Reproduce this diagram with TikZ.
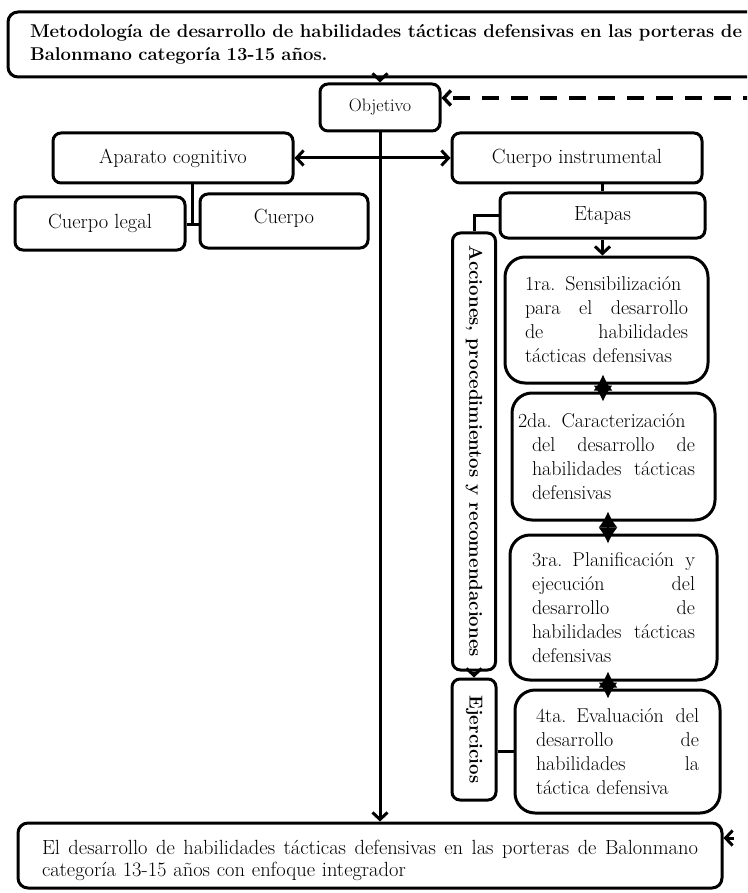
\documentclass[tikz,border=0pt]{standalone}
\usepackage{fontspec}
\usetikzlibrary{arrows.meta}
\newcommand{\jl}[2]{\leavevmode\hbox to #1{\spaceskip=0.3em plus 1fil\relax #2}}
\begin{document}
\begin{tikzpicture}[x=1pt,y=-1pt,
  box/.style={draw, line width=3pt, rounded corners=8pt, inner sep=0pt, align=center, font=\fontsize{20.5}{23}\selectfont},
  stage/.style={box, rounded corners=20pt, text width=163pt, align=left, font=\fontsize{20}{24}\selectfont},
  vbox/.style={box, rotate=-90, font=\bfseries\fontsize{18.7}{20}\selectfont},
  conn/.style={line width=3pt},
  arr/.style={line width=3pt, -{Straight Barb[length=7pt,width=15pt]}},
  arrs/.style={line width=3pt, {Straight Barb[length=7pt,width=15pt]}-{Straight Barb[length=7pt,width=15pt]}},
  dbl/.style={line width=2pt, {Latex[length=16pt,width=19pt]}-{Latex[length=16pt,width=19pt]}, shorten <=-10pt, shorten >=-10pt},
  dsh/.style={line width=3.4pt, dash pattern=on 17pt off 12pt, -{Straight Barb[length=7pt,width=15pt]}}
]
\useasboundingbox (0,0) rectangle (747,893);
\clip (0,0) rectangle (747,893);
\fill[white] (0,0) rectangle (747,893);

% top title
\node[box, rounded corners=10pt, minimum width=756pt, minimum height=65pt, text width=712pt, align=left,
  font=\bfseries\fontsize{18.5}{23}\selectfont] (top) at (386,44.5)
  {\jl{712pt}{Metodología de desarrollo de habilidades tácticas defensivas en las porteras de}\\Balonmano categoría 13-15 años.};

\node[box, minimum width=120pt, minimum height=47pt, font=\fontsize{18}{20}\selectfont] (obj) at (380,107.5) {Objetivo};

\node[box, minimum width=240pt, minimum height=50pt] (apa) at (173,158) {Aparato cognitivo};
\node[box, minimum width=250pt, minimum height=50pt] (ci) at (577,158) {Cuerpo instrumental};
\node[box, minimum width=170pt, minimum height=53pt] (leg) at (100,223.5) {Cuerpo legal};
\node[box, minimum width=168pt, minimum height=54pt] (cu) at (284,221) {Cuerpo\rule[-9pt]{0pt}{9pt}};
\node[box, minimum width=205pt, minimum height=45pt] (et) at (602.5,215.5) {Etapas};

\node[vbox, minimum width=437pt, minimum height=43pt] (acc) at (474,451.5) {Acciones, procedimientos y recomendaciones};
\node[vbox, minimum width=121pt, minimum height=44pt] (ej) at (474,739.5) {Ejercicios};

\node[stage, minimum width=203pt, minimum height=126pt] (s1) at (606.5,320)
  {\jl{163pt}{1ra. Sensibilización}\\\jl{163pt}{para el desarrollo}\\\jl{163pt}{de habilidades}\\tácticas defensivas};
\node[stage, minimum width=203pt, minimum height=127pt] (s2) at (613.5,456.5)
  {\hspace*{-14pt}\jl{177pt}{2da. Caracterización}\\\jl{163pt}{del desarrollo de}\\\jl{163pt}{habilidades tácticas}\\defensivas};
\node[stage, minimum width=207pt, minimum height=145pt] (s3) at (613.5,607.5)
  {\jl{163pt}{3ra. Planificación y}\\\jl{163pt}{ejecución del}\\\jl{163pt}{desarrollo de}\\\jl{163pt}{habilidades tácticas}\\defensivas};
\node[stage, minimum width=205pt, minimum height=123pt] (s4) at (617.5,751.5)
  {\jl{163pt}{4ta. Evaluación del}\\\jl{163pt}{desarrollo de}\\\jl{163pt}{habilidades la}\\táctica defensiva};

\node[box, rounded corners=10pt, minimum width=704pt, minimum height=65pt, text width=656pt, align=left,
  font=\fontsize{20.5}{22}\selectfont] (bot) at (370,855.5)
  {\rule{0pt}{25pt}\jl{656pt}{El desarrollo de habilidades tácticas defensivas en las porteras de Balonmano}\\categoría 13-15 años con enfoque integrador};

% helper coordinates
\coordinate (j) at (192,225);
\coordinate (x1) at (603,0);
\coordinate (x2) at (608,0);
\coordinate (fb) at (760,98);
\coordinate (fb2) at (734,838);

% connectors
\draw[arr] (top.south -| obj.north) -- (obj.north);
\draw[dsh] (fb) -- (obj.east |- fb);
\draw[arrs] (apa.east) -- (ci.west);
\draw[arr] (obj.south) -- (obj.south |- bot.north);
\draw[conn] (apa.south -| j) -- (j);
\draw[conn] (leg.east |- j) -- (cu.west |- j);
\draw[conn] (ci.south -| et.north) -- (et.north);
\draw[conn] (et.west) -| (acc.west);
\draw[arr] (et.south) -- (et.south |- s1.north);
\draw[dbl] (s1.south -| x1) -- (s2.north -| x1);
\draw[dbl] (s2.south -| x2) -- (s3.north -| x2);
\draw[dbl] (s3.south -| x2) -- (s4.north -| x2);
\draw[arr] (acc.east) -- (ej.west);
\draw[conn] (ej.north |- s4.west) -- (s4.west);
\draw[arr] (fb2) -- (bot.east |- fb2);
\end{tikzpicture}
\end{document}
